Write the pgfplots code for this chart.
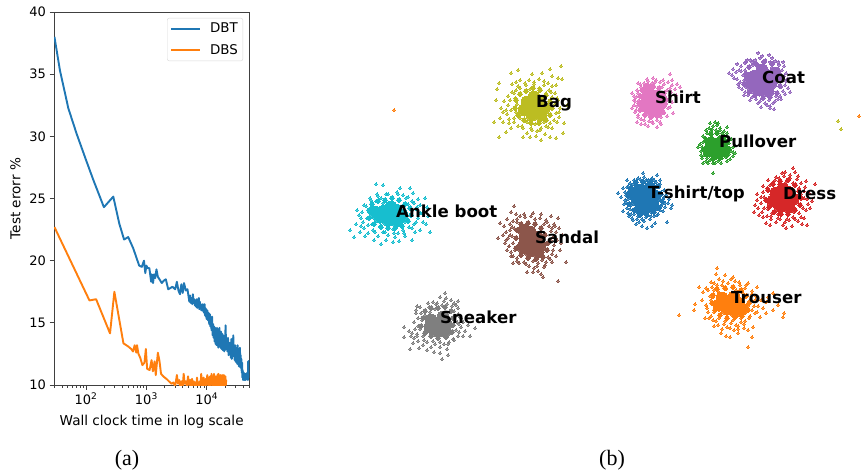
\documentclass[border=0pt]{standalone}
\usepackage{fontspec}
\setmainfont{DejaVu Sans}
\newfontfamily\capfont{Liberation Serif}
\usepackage{pgfplots}
\pgfplotsset{compat=1.18}

\definecolor{c0}{HTML}{1F77B4}
\definecolor{c1}{HTML}{FF7F0E}
\definecolor{c2}{HTML}{2CA02C}
\definecolor{c3}{HTML}{D62728}
\definecolor{c4}{HTML}{9467BD}
\definecolor{c5}{HTML}{8C564B}
\definecolor{c6}{HTML}{E377C2}
\definecolor{c7}{HTML}{7F7F7F}
\definecolor{c8}{HTML}{BCBD22}
\definecolor{c9}{HTML}{17BECF}

\pgfplotsset{
  pts/.style={only marks, color=#1, mark=*, mark size=1.1pt, mark options={fill=#1, draw=#1, line width=0pt}, forget plot},
  mid/.style={only marks, color=#1, mark=*, mark size=2.3pt, mark options={fill=#1, draw=#1, line width=0pt}, forget plot},
  blob/.style={only marks, color=#1, mark=*, mark size=6pt, mark options={fill=#1, draw=#1, line width=0pt}, forget plot},
}
\newcommand{\lab}[3]{\node[anchor=west, inner sep=0pt, font=\fontsize{16.6}{18}\selectfont\bfseries] at (axis cs:#1,#2) {#3};}

\begin{document}
\begin{tikzpicture}[x=1pt, y=1pt]
\path[use as bounding box] (0,0) rectangle (864,471);

\begin{axis}[
  at={(54pt,86pt)}, anchor=south west,
  scale only axis, width=195.3pt, height=373pt,
  xmode=log, log basis x=10,
  xmin=29.5, xmax=50700, ymin=10, ymax=40,
  xtick={100,1000,10000},
  xticklabels={10\textsuperscript{2},10\textsuperscript{3},10\textsuperscript{4}},
  minor xtick={30,40,50,60,70,80,90,200,300,400,500,600,700,800,900,2000,3000,4000,5000,6000,7000,8000,9000,20000,30000,40000,50000},
  ytick={10,15,20,25,30,35,40},
  tick align=outside, axis line style={black!75, line width=0.9pt},
  major tick length=4.5pt, minor tick length=2.6pt,
  tick style={black!75, line width=0.8pt},
  xtick pos=bottom, ytick pos=left,
  tick label style={font=\fontsize{13}{15}\selectfont},
  /pgf/number format/assume math mode=true,
  xlabel={Wall clock time in log scale}, ylabel={Test erorr \%},
  xlabel shift=4pt, ylabel shift=2pt,
  label style={font=\fontsize{13.6}{16}\selectfont},
  legend style={at={(0.968,0.984)}, anchor=north east, draw=black!15, rounded corners=2pt,
    font=\fontsize{13.4}{15}\selectfont, row sep=6pt, inner xsep=3pt, inner ysep=3pt},
  legend cell align=left,
  legend image code/.code={\draw[#1, line width=1.7pt] (0pt,0pt) -- (29pt,0pt); \path (36pt,0pt);},
]
\addplot[c0, line width=1.9pt, line join=round] coordinates {
(30,38)(37,35.3)(51,32.25)(70,30.2)(100,28.1)(132,26.5)(198,24.3)(283,25.15)(355,23)(427,21.7)(500,21.9)(605,21)(760,19.6)(840,19.5)(912,20)(960,19)(1000,19.6)(1050,19.4)(1120,19.4)(1200,18.3)(1230,18.9)(1290,18.2)(1340,18.9)(1400,18.6)(1470,19.3)(1550,18.7)(1650,18.5)(1800,18.2)(1950,18.4)(2100,18.5)(2300,17.7)(2500,17.8)(2700,17.9)(3000,17.7)(3200,18.3)(3400,17.6)(3600,17.3)(3800,18.1)(4000,17.4)(4200,18.2)(4500,17.6)(4800,17.7)
(5000,17.1)(5150,16.7)(5300,17.2)(5450,16.6)(5600,17.0)(5750,16.5)(5900,17.3)(6050,16.6)(6200,16.9)(6350,16.4)(6500,16.8)(6650,16.3)(6800,16.9)(6950,16.2)(7100,16.9)(7250,16.3)(7400,17.0)(7550,16.1)(7700,16.7)(7850,16.2)(8000,16.5)(8150,16.0)(8300,16.4)(8450,16.1)(8600,16.5)(8750,15.9)(8900,16.4)(9050,15.8)(9200,16.5)(9350,15.6)(9500,16.2)(9650,15.5)(9800,16.1)(9950,15.3)
(10250,16.0)(10500,15.2)(10750,15.8)(11000,14.9)(11250,15.7)(11500,14.7)(11750,15.3)(12000,14.4)(12250,15.5)(12500,14.0)(12750,14.9)(13000,13.8)(13250,14.7)(13500,13.5)(13750,14.6)(14000,13.3)(14250,14.5)(14500,13.2)(14750,14.6)(15000,13.4)(15250,14.4)(15500,13.0)(15750,14.5)(16000,13.2)(16250,14.6)(16500,13.1)(16750,14.2)(17000,13.0)(17250,14.3)(17500,12.9)(17750,13.9)(18000,13.0)(18250,14.1)(18500,12.8)(18750,14.0)(19000,12.9)(19250,13.8)(19500,12.7)(19750,13.6)(20000,12.8)
(20500,14.8)(21000,12.9)(21500,13.5)(22000,12.7)(22500,13.8)(23000,12.4)(23500,13.4)(24000,12.5)(24500,13.4)(25000,12.2)(25500,13.7)(26000,12.1)(26500,13.2)(27000,12.6)(27500,14.0)(28000,12.3)(28500,13.1)(29000,12.0)(29500,13.2)(30000,11.9)(30500,13.0)(31000,11.8)(31500,12.9)(32000,11.7)(32500,13.2)(33000,11.7)(33500,12.8)(34000,11.5)(34500,12.6)(35000,11.6)(35500,13.0)(36000,11.4)(36500,12.4)(37000,11.6)(37500,12.1)(38000,11.0)(38500,11.8)(39000,10.6)(39500,11.2)(40000,10.4)(41000,11.0)(42000,10.4)(43000,10.9)(44000,10.4)(45000,10.9)(46000,10.5)(47000,11.0)(48000,10.4)(48500,11.9)(49000,10.6)(49500,11.8)(50000,10.7)(50500,12.0)
};
\addlegendentry{DBT}
\addplot[c1, line width=1.9pt, line join=round] coordinates {
(30,22.7)(114,16.8)(147,16.9)(250,14.15)(295,17.5)(417,13.35)(500,13.1)(560,12.9)(600,12.7)(640,13.2)(680,12.6)(700,13.2)(740,12.5)(790,12.2)(860,11.6)(930,11.8)(980,12.9)(1030,11.3)(1130,11.2)(1220,12)(1280,11.1)(1370,11.9)(1430,10.8)(1550,12.6)(1640,12)(1750,10.9)(1900,10.7)(2200,10.45)(2600,10.1)(2800,10.2)(3000,9.9)
(3200,10.8)(3350,10.1)(3500,10.4)(3650,9.9)(3800,10.3)(4000,9.9)(4150,10.9)(4300,10.1)(4500,10.3)(4700,9.9)(4900,10.7)(5100,10.0)(5300,10.4)(5500,9.9)(5700,10.5)(5900,10.0)(6100,10.3)(6300,9.9)(6500,10.2)(6700,9.9)(6900,10.6)(7100,10.0)(7300,10.2)(7500,9.9)(7700,10.3)(7900,10.0)(8100,10.9)(8300,10.0)(8500,10.3)(8700,9.9)(8900,10.6)(9100,10.0)(9300,10.4)(9500,9.9)(9700,10.5)(9900,10.0)
(10200,10.8)(10500,10.0)(10800,10.6)(11100,9.9)(11400,10.7)(11700,10.0)(12000,10.9)(12300,10.0)(12600,10.5)(12900,9.9)(13200,10.9)(13500,10.0)(13800,10.7)(14100,9.9)(14400,10.6)(14700,10.0)(15000,10.8)(15300,9.9)(15600,10.9)(15900,10.0)(16200,10.6)(16500,9.9)(16800,10.8)(17100,10.0)(17400,10.7)(17700,9.9)(18000,10.8)(18300,10.0)(18600,10.7)(18900,9.9)(19200,10.8)(19500,10.0)(19800,10.6)(20100,9.9)(20400,10.7)(20700,10.0)(21000,10.4)
};
\addlegendentry{DBS}
\end{axis}

\begin{axis}[
  at={(300pt,0pt)}, anchor=south west,
  scale only axis, width=564pt, height=471pt,
  xmin=300, xmax=864, ymin=0, ymax=471, y dir=reverse,
  hide axis,
  after end axis/.code={
    \lab{536}{103}{Bag}
    \lab{762}{77}{Coat}
    \lab{655}{97}{Shirt}
    \lab{719}{141}{Pullover}
    \lab{648}{194}{T-shirt/top}
    \lab{783}{194}{Dress}
    \lab{396}{211}{Ankle boot}
    \lab{535}{237}{Sandal}
    \lab{731}{298}{Trouser}
    \lab{440}{317}{Sneaker}
  },
]
% T-shirt/top
\addplot[blob=c0] coordinates {(645,197)(639,190)(650,188)(655,196)(637,200)(648,206)(641,209)(653,205)(633,194)};
\addplot[mid=c0] coordinates {(631,188)(636,182)(643,182)(651,181)(658,186)(661,194)(662,201)(659,208)(654,212)(647,215)(640,215)(634,210)(629,204)(628,196)};
\addplot[pts=c0] coordinates {(618,193)(623,211)(627,180)(643,173)(657,175)(647,228)(655,223)(667,222)(672,205)(632,218)(639,222)
(627,187)(630,183)(634,180)(638,178)(644,177)(648,180)(652,178)(656,182)(659,187)(661,192)(663,199)(662,204)(665,207)(668,203)(671,208)(660,210)(658,214)(654,216)(650,219)(646,217)(642,219)(638,216)(634,214)(630,209)(628,204)(625,200)(626,195)(629,191)(623,188)(621,197)(624,204)(628,213)(633,220)(636,224)(642,226)(631,186)(636,183)(642,181)(666,195)(664,190)(660,180)(628,199)(631,205)(637,212)(645,214)(651,212)(657,209)(661,206)
(633,184)(640,179)(646,180)(654,180)(660,184)(664,197)(665,203)(663,211)(657,215)(651,216)(644,221)(637,219)(631,214)(627,208)(626,202)(625,192)(628,186)(669,199)(652,226)(629,216)};
% Trouser
\addplot[blob=c1] coordinates {(728,302)(722,298)(734,297)(739,304)(719,305)(727,309)(735,311)(742,309)};
\addplot[mid=c1] coordinates {(713,295)(717,289)(725,288)(733,287)(741,290)(746,296)(749,303)(748,310)(742,316)(735,317)(727,318)(720,315)(715,310)(712,303)};
\addplot[pts=c1] coordinates {(679,315)(694,310)(695,304)(699,287)(711,282)(717,268)(725,275)(733,277)(748,283)(757,287)(773,293)(784,313)(783,317)(773,310)(763,308)(760,317)(753,327)(748,330)(752,337)(748,347)(730,337)(726,336)(738,329)(713,320)
(703,292)(706,288)(712,287)(716,274)(719,279)(723,281)(728,283)(735,281)(740,285)(745,288)(752,291)(756,296)(761,300)(766,302)(758,306)(752,310)(755,313)(749,318)(745,321)(741,322)(736,325)(731,323)(727,327)(722,329)(718,325)(714,326)(711,316)(708,312)(705,318)(702,300)(706,305)(710,296)(714,290)(717,285)(750,300)(746,296)(748,306)(745,313)(741,318)(733,320)(725,321)(719,318)(714,312)(712,304)(713,297)(718,291)(726,289)(736,290)(743,293)(768,297)(778,305)(766,313)(738,333)(721,333)(734,330)
(708,290)(711,300)(707,308)(709,318)(716,321)(724,324)(730,328)(738,326)(744,324)(750,316)(754,306)(755,300)(752,294)(746,285)(739,282)(731,279)(722,285)(714,283)(757,312)(744,328)};
% Pullover
\addplot[blob=c2] coordinates {(716,147)(711,143)(721,143)(723,150)(709,151)(716,153)};
\addplot[mid=c2] coordinates {(706,140)(711,134)(717,133)(723,136)(727,142)(729,149)(727,155)(720,158)(713,159)(707,155)(704,149)};
\addplot[pts=c2] coordinates {(715,122)(710,123)(698,147)(703,163)(713,163)(735,153)(727,127)(713,173)
(709,128)(713,126)(717,125)(720,128)(724,131)(707,133)(711,131)(716,130)(722,133)(726,136)(705,138)(703,142)(702,147)(701,151)(704,150)(704,155)(707,158)(710,160)(714,159)(718,161)(722,158)(726,157)(729,154)(731,151)(733,156)(730,159)(728,148)(729,143)(726,141)(706,161)(701,155)(719,137)(712,137)(707,145)(724,155)(716,158)
(703,136)(706,130)(712,129)(720,130)(727,133)(731,139)(733,147)(733,152)(727,161)(721,163)(715,163)(708,163)(702,158)(700,144)(718,123)};
% Dress
\addplot[blob=c3] coordinates {(782,198)(776,193)(788,192)(793,199)(773,201)(780,206)(789,207)(783,189)};
\addplot[mid=c3] coordinates {(768,190)(773,184)(780,181)(788,180)(795,185)(799,191)(801,198)(800,205)(795,210)(788,214)(781,214)(774,212)(769,207)(766,200)};
\addplot[pts=c3] coordinates {(754,212)(757,200)(766,223)(786,228)(807,225)(815,184)(793,168)(785,172)(775,180)(810,208)
(770,185)(773,182)(779,178)(784,176)(790,175)(795,172)(797,179)(801,183)(805,187)(809,193)(804,198)(808,204)(812,201)(803,208)(799,213)(804,218)(798,221)(793,217)(789,220)(785,222)(780,219)(776,222)(771,219)(767,216)(762,212)(758,208)(761,203)(764,197)(763,192)(767,188)(759,215)(755,205)(768,209)(772,213)(778,214)(787,214)(794,212)(800,205)(801,194)(799,188)(793,183)(786,182)(779,184)(771,194)(769,202)(770,225)(792,226)(802,224)
(763,186)(768,180)(776,177)(782,173)(790,178)(798,176)(804,191)(807,199)(806,210)(801,217)(795,219)(787,219)(778,218)(771,216)(764,208)(761,197)(757,194)(806,181)(783,225)(763,217)};
% Coat
\addplot[blob=c4] coordinates {(761,82)(755,76)(766,75)(771,83)(752,85)(759,90)(768,91)(750,78)(762,70)(775,73)};
\addplot[mid=c4] coordinates {(746,74)(749,67)(756,64)(764,62)(772,64)(778,70)(780,78)(780,86)(777,93)(770,97)(763,98)(755,95)(749,92)(744,84)};
\addplot[pts=c4] coordinates {(758,53)(769,55)(729,73)(747,60)(790,92)(774,109)(761,107)(783,62)(737,64)(739,70)(734,78)(738,84)
(745,63)(750,60)(755,60)(760,58)(765,60)(770,62)(775,61)(779,65)(782,70)(784,76)(781,80)(785,85)(783,91)(780,96)(778,99)(773,103)(769,100)(765,103)(760,101)(756,99)(752,97)(748,95)(745,92)(742,89)(740,82)(743,75)(745,70)(741,66)(736,72)(733,69)(748,67)(753,65)(786,81)(788,88)(776,96)(770,106)(763,98)(752,92)(746,87)(744,80)(758,65)(772,67)(779,75)(781,87)
(741,71)(746,62)(752,62)(762,56)(772,58)(778,62)(784,66)(786,73)(787,79)(785,94)(781,99)(775,101)(767,105)(758,103)(750,100)(744,95)(739,87)(737,79)(732,75)(770,108)};
% Sandal
\addplot[blob=c5] coordinates {(531,243)(525,238)(537,237)(540,245)(523,247)(530,251)(538,252)(530,232)(524,230)};
\addplot[mid=c5] coordinates {(516,238)(517,230)(521,224)(528,223)(535,224)(541,228)(545,235)(548,243)(547,250)(543,257)(536,259)(528,258)(521,255)(516,248)};
\addplot[pts=c5] coordinates {(514,206)(500,223)(558,218)(498,238)(558,281)(543,277)(527,272)(566,262)(560,250)(513,263)
(511,212)(516,214)(520,216)(525,217)(531,216)(535,219)(540,218)(546,220)(551,216)(554,224)(549,226)(544,224)(507,219)(504,226)(510,224)(513,221)(517,222)(506,232)(510,230)(514,228)(503,235)(508,238)(512,236)(505,243)(509,246)(513,243)(507,250)(511,252)(515,250)(513,256)(517,258)(521,256)(519,263)(524,262)(528,259)(533,261)(529,266)(534,268)(538,263)(542,260)(546,262)(544,267)(548,257)(552,254)(556,256)(552,262)(554,245)(557,240)(561,243)(553,237)(556,232)(551,231)(559,228)(562,235)(533,272)(538,271)
(510,235)(512,227)(517,219)(524,214)(533,213)(541,214)(547,222)(552,228)(551,240)(553,250)(550,259)(545,265)(537,266)(526,264)(517,261)(511,256)(509,246)(506,240)(555,226)(541,274)};
% Shirt
\addplot[blob=c6] coordinates {(652,103)(647,97)(657,96)(661,103)(645,106)(652,111)(658,110)(648,90)};
\addplot[mid=c6] coordinates {(640,96)(642,90)(647,85)(653,86)(659,88)(664,93)(666,100)(664,106)(663,112)(657,116)(651,117)(645,115)(640,110)(639,103)};
\addplot[pts=c6] coordinates {(670,74)(653,78)(638,83)(632,93)(632,108)(637,122)(657,127)(673,113)(680,87)
(641,87)(644,83)(648,81)(652,83)(656,80)(660,82)(664,84)(668,82)(672,85)(675,89)(671,92)(667,90)(665,96)(669,99)(666,104)(668,108)(664,113)(661,117)(657,120)(653,123)(649,121)(645,124)(641,119)(638,115)(635,112)(637,106)(639,100)(636,97)(635,101)(638,93)(642,91)(640,110)(644,114)(650,116)(658,115)(665,100)(634,105)(648,126)(641,124)(677,84)(662,87)(654,87)
(637,90)(640,84)(647,79)(655,82)(663,80)(670,88)(670,95)(672,102)(670,107)(667,116)(660,122)(652,122)(644,120)(638,117)(636,110)(634,100)(634,96)(672,80)(661,124)(676,95)};
% Sneaker
\addplot[blob=c7] coordinates {(437,323)(431,320)(443,317)(446,324)(430,327)(437,331)(445,331)};
\addplot[mid=c7] coordinates {(423,318)(425,311)(431,308)(438,308)(445,307)(451,311)(453,318)(453,325)(452,332)(446,337)(438,338)(431,336)(425,333)(421,326)};
\addplot[pts=c7] coordinates {(445,293)(433,302)(417,306)(416,310)(404,327)(404,337)(410,349)(434,352)(442,359)(448,355)(463,336)(470,336)(475,328)(458,301)
(440,297)(446,298)(451,300)(437,303)(442,305)(447,304)(452,306)(456,305)(429,307)(425,310)(421,313)(418,318)(422,320)(425,315)(430,312)(435,309)(454,311)(458,314)(461,318)(457,322)(461,327)(456,330)(458,336)(453,339)(449,342)(444,344)(447,349)(440,347)(435,344)(431,347)(427,342)(423,345)(418,341)(414,338)(412,333)(417,334)(420,329)(418,326)(423,336)(413,343)(427,350)(419,348)(440,353)(446,338)(452,333)(463,322)(465,331)(409,331)
(416,313)(420,307)(428,303)(436,304)(444,301)(454,303)(458,308)(459,316)(459,324)(459,332)(454,340)(448,344)(440,342)(433,341)(424,340)(417,336)(415,329)(414,322)(468,325)(411,336)};
% Bag
\addplot[blob=c8] coordinates {(533,107)(527,102)(539,101)(544,108)(524,110)(532,115)(541,115)(534,97)};
\addplot[mid=c8] coordinates {(516,100)(520,94)(526,91)(533,88)(540,90)(546,95)(550,101)(552,108)(550,115)(546,120)(539,123)(531,123)(524,120)(518,115)(515,108)};
\addplot[pts=c8] coordinates {(494,122)(499,137)(496,100)(499,83)(497,89)(511,73)(518,70)(532,74)(542,73)(550,69)(561,66)(558,78)(562,79)(556,85)(564,123)(563,133)(556,138)(550,137)(541,140)(523,137)(506,132)(501,108)(500,118)
(512,84)(516,82)(520,80)(525,83)(529,80)(534,82)(539,79)(544,81)(548,83)(552,86)(549,90)(555,93)(552,97)(558,100)(555,104)(560,108)(556,113)(559,117)(554,120)(550,123)(552,128)(546,126)(541,128)(537,131)(532,130)(527,133)(523,128)(518,126)(514,122)(509,119)(507,114)(511,110)(508,105)(504,101)(508,96)(512,92)(516,90)(520,88)(525,91)(515,98)(517,104)(516,112)(520,118)(527,122)(535,124)(544,122)(550,116)(551,106)(546,93)(539,88)(530,89)(503,122)(511,128)(536,136)(545,134)(530,137)
(506,110)(510,100)(514,93)(518,86)(526,85)(534,84)(544,85)(551,92)(557,98)(559,112)(557,122)(548,127)(540,130)(531,128)(522,126)(514,118)(509,123)(503,112)(552,76)(567,105)};
% Ankle boot
\addplot[blob=c9] coordinates {(390,214)(384,211)(396,210)(402,215)(380,217)(388,220)(397,221)(391,207)(375,212)};
\addplot[mid=c9] coordinates {(369,210)(372,204)(378,201)(385,200)(392,198)(399,200)(405,204)(410,208)(411,215)(408,221)(402,226)(395,228)(388,228)(381,227)(374,224)(369,218)};
\addplot[pts=c9] coordinates {(376,184)(383,185)(400,188)(410,188)(425,198)(350,230)(354,237)(381,244)(359,215)(430,232)(420,230)(412,240)(393,242)(371,200)
(386,194)(392,197)(397,192)(403,195)(408,197)(413,193)(418,199)(414,203)(420,205)(416,209)(422,213)(418,218)(423,222)(414,224)(409,227)(403,230)(398,233)(393,229)(388,235)(383,232)(378,236)(373,230)(368,233)(364,228)(360,232)(363,222)(367,218)(361,218)(369,212)(372,206)(376,201)(381,198)(377,194)(366,206)(372,224)(380,226)(395,237)(405,236)(386,240)(399,241)(415,232)(427,207)(428,216)(356,224)(365,236)(374,240)(408,204)(411,216)(405,222)(374,218)(383,203)
(362,212)(364,205)(370,198)(378,196)(388,194)(398,194)(406,198)(412,201)(417,207)(420,213)(416,222)(412,228)(404,233)(394,233)(385,232)(375,232)(368,225)(361,226)(426,224)(357,210)};
% stray points
\addplot[pts=c1] coordinates {(394,110)(859,116)};
\addplot[pts=c8] coordinates {(838,121)(841,129)};
\end{axis}

\node[font=\capfont\fontsize{22}{24}\selectfont, inner sep=0pt] at (127,11) {(a)};
\node[font=\capfont\fontsize{22}{24}\selectfont, inner sep=0pt] at (612,11) {(b)};
\end{tikzpicture}
\end{document}
